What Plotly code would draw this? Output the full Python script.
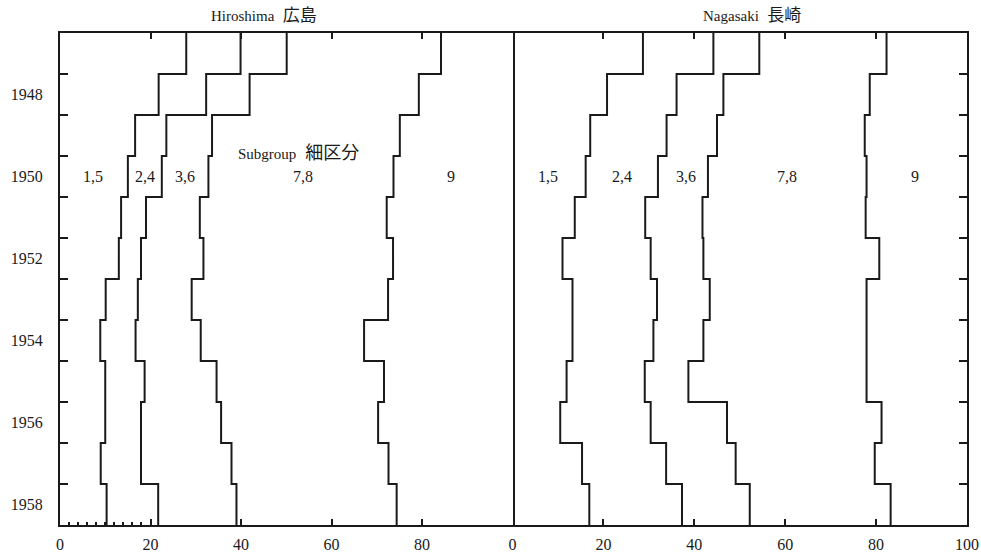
import plotly.graph_objects as go

# ---- data (cumulative percentage boundaries per year) ----
years = [1947, 1948, 1949, 1950, 1951, 1952, 1953, 1954, 1955, 1956, 1957, 1958]

hiro_15 = [27.9, 21.8, 16.6, 15.0, 13.5, 13.0, 10.1, 8.9, 10.0, 10.0, 9.0, 10.3]
hiro_24 = [39.9, 32.3, 23.5, 22.5, 19.0, 17.9, 17.2, 16.7, 18.7, 17.9, 17.9, 21.7]
hiro_36 = [50.1, 41.9, 33.6, 32.8, 30.9, 31.7, 29.1, 31.1, 34.6, 35.6, 37.9, 39.0]
hiro_78 = [84.2, 79.3, 75.1, 73.7, 72.2, 73.6, 72.5, 67.2, 71.6, 70.3, 72.6, 74.4]

naga_15 = [28.7, 20.8, 17.1, 16.1, 13.7, 11.0, 13.2, 13.2, 11.9, 10.5, 15.3, 16.9]
naga_24 = [44.2, 36.1, 33.9, 32.0, 29.2, 30.4, 31.8, 31.0, 29.1, 30.4, 33.8, 37.3]
naga_36 = [54.3, 46.4, 45.0, 43.0, 41.8, 42.0, 43.4, 42.0, 38.7, 47.2, 49.1, 52.2]
naga_78 = [82.3, 78.6, 77.5, 77.9, 77.7, 80.7, 77.9, 77.9, 77.9, 81.2, 79.7, 83.2]

year_labels = [1948, 1950, 1952, 1954, 1956, 1958]
hiro_xticks = [0, 20, 40, 60, 80]
naga_xticks = [0, 20, 40, 60, 80, 100]
top_ticks = [20, 40, 60, 80]
hiro_minor = [2, 4, 6, 8, 10, 12, 14, 16, 18]

group_labels = ["1,5", "2,4", "3,6", "7,8", "9"]
hiro_label_x = [7.3, 18.8, 27.6, 53.6, 86.5]
naga_label_x = [7.9, 24.2, 38.1, 60.4, 88.5]
label_year = 1950

SERIF = "Liberation Serif, Noto Sans CJK JP"
INK = "#1a1a1a"

boundaries = [y - 0.5 for y in years] + [years[-1] + 0.5]


def step_xy(vals):
    xs = list(vals) + [vals[-1]]
    return xs, boundaries


fig = go.Figure()
for vals in (hiro_15, hiro_24, hiro_36, hiro_78):
    xs, ys = step_xy(vals)
    fig.add_trace(go.Scatter(x=xs, y=ys, mode="lines", line_shape="vh",
                             line=dict(color=INK, width=2),
                             xaxis="x", yaxis="y", showlegend=False,
                             hoverinfo="skip"))
for vals in (naga_15, naga_24, naga_36, naga_78):
    xs, ys = step_xy(vals)
    fig.add_trace(go.Scatter(x=xs, y=ys, mode="lines", line_shape="vh",
                             line=dict(color=INK, width=2),
                             xaxis="x2", yaxis="y2", showlegend=False,
                             hoverinfo="skip"))
# empty traces so the top tick axes are drawn
fig.add_trace(go.Scatter(x=[None], y=[None], xaxis="x3", yaxis="y",
                         showlegend=False, hoverinfo="skip"))
fig.add_trace(go.Scatter(x=[None], y=[None], xaxis="x4", yaxis="y2",
                         showlegend=False, hoverinfo="skip"))

H = 553.0
W = 981.0
ydom = [(H - 525) / H, (H - 33) / H]
x1dom = [60 / W, 512.5 / W]
x2dom = [512.5 / W, 967 / W]
yrange = [years[-1] + 0.5, years[0] - 0.5]

tickfont = dict(family=SERIF, size=16, color=INK)

fig.update_layout(
    template="none",
    width=981, height=553,
    margin=dict(l=0, r=0, t=0, b=0),
    paper_bgcolor="white", plot_bgcolor="white",
    showlegend=False,
    xaxis=dict(domain=x1dom, range=[0, 100], anchor="y",
               tickmode="array", tickvals=hiro_xticks,
               ticktext=[str(v) for v in hiro_xticks],
               ticks="inside", ticklen=6, tickwidth=1.5, tickcolor=INK,
               showline=True, linecolor=INK, linewidth=2, mirror=True,
               showgrid=False, zeroline=False, tickfont=tickfont,
               ticklabelstandoff=4,
               minor=dict(tickmode="array", tickvals=hiro_minor, ticks="inside",
                          ticklen=3, tickwidth=1.5, tickcolor=INK,
                          showgrid=False)),
    xaxis2=dict(domain=x2dom, range=[0, 100], anchor="y2",
                tickmode="array", tickvals=naga_xticks,
                ticktext=[str(v) for v in naga_xticks],
                ticks="inside", ticklen=6, tickwidth=1.5, tickcolor=INK,
                showline=True, linecolor=INK, linewidth=2, mirror=True,
                showgrid=False, zeroline=False, tickfont=tickfont,
                ticklabelstandoff=4),
    xaxis3=dict(overlaying="x", side="top", anchor="y", range=[0, 100],
                tickmode="array", tickvals=top_ticks, showticklabels=False,
                ticks="inside", ticklen=6, tickwidth=1.5, tickcolor=INK,
                showline=False, showgrid=False, zeroline=False),
    xaxis4=dict(overlaying="x2", side="top", anchor="y2", range=[0, 100],
                tickmode="array", tickvals=top_ticks, showticklabels=False,
                ticks="inside", ticklen=6, tickwidth=1.5, tickcolor=INK,
                showline=False, showgrid=False, zeroline=False),
    yaxis=dict(domain=ydom, range=yrange, anchor="x",
               tickmode="array", tickvals=year_labels,
               ticktext=[str(v) for v in year_labels],
               ticks="", showline=True, linecolor=INK, linewidth=2,
               mirror=True, showgrid=False, zeroline=False,
               tickfont=tickfont, ticklabelstandoff=12,
               minor=dict(tickmode="array", tickvals=boundaries[1:-1],
                          ticks="inside", ticklen=8, tickwidth=1.5,
                          tickcolor=INK, showgrid=False)),
    yaxis2=dict(domain=ydom, range=yrange, anchor="x2", side="right",
                tickmode="array", tickvals=year_labels,
                showticklabels=False,
                ticks="", showline=True, linecolor=INK, linewidth=2,
                mirror=False, showgrid=False, zeroline=False,
                minor=dict(tickmode="array", tickvals=boundaries[1:-1],
                           ticks="inside", ticklen=8, tickwidth=1.5,
                           tickcolor=INK, showgrid=False)),
)

annotations = [
    dict(x=264 / W, y=1 - 16 / H, xref="paper", yref="paper",
         xanchor="center", yanchor="middle",
         text="<span style='font-size:15px'>Hiroshima</span>  広島",
         showarrow=False, font=dict(family=SERIF, size=17, color=INK)),
    dict(x=752 / W, y=1 - 16 / H, xref="paper", yref="paper",
         xanchor="center", yanchor="middle",
         text="<span style='font-size:15px'>Nagasaki</span>  長崎",
         showarrow=False, font=dict(family=SERIF, size=17, color=INK)),
    dict(x=52.7, y=1949.43, xref="x", yref="y",
         xanchor="center", yanchor="middle",
         text="<span style='font-size:15px'>Subgroup</span>  細区分",
         showarrow=False, font=dict(family=SERIF, size=18, color=INK)),
]
for lbl, xv in zip(group_labels, hiro_label_x):
    annotations.append(dict(x=xv, y=label_year, xref="x", yref="y", text=lbl,
                            xanchor="center", yanchor="middle",
                            showarrow=False,
                            font=dict(family=SERIF, size=16, color=INK)))
for lbl, xv in zip(group_labels, naga_label_x):
    annotations.append(dict(x=xv, y=label_year, xref="x2", yref="y2", text=lbl,
                            xanchor="center", yanchor="middle",
                            showarrow=False,
                            font=dict(family=SERIF, size=16, color=INK)))
fig.update_layout(annotations=annotations)

fig.write_html("out.html")
